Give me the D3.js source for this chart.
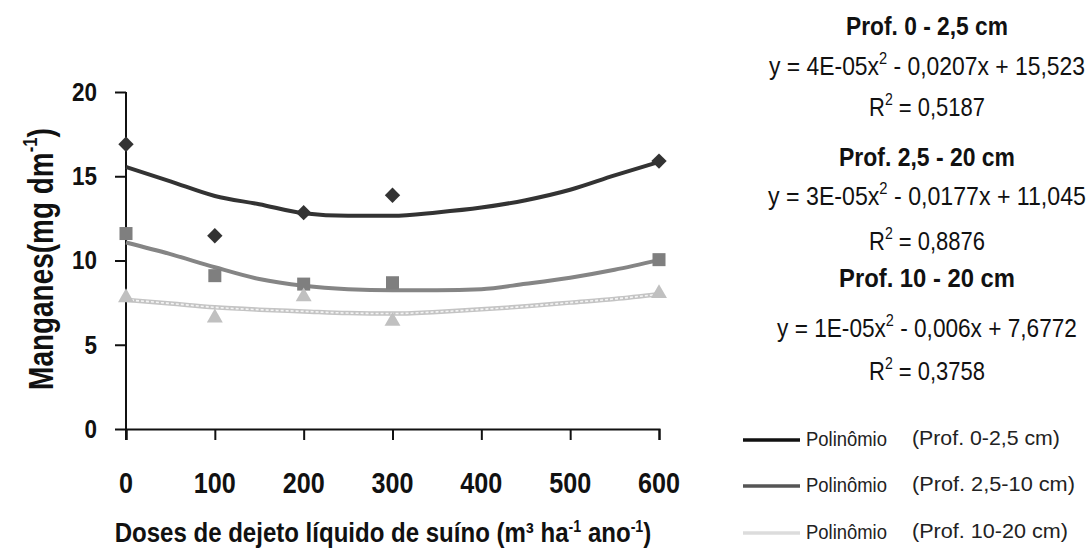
<!DOCTYPE html>
<html>
<head>
<meta charset="utf-8">
<script src="https://cdn.jsdelivr.net/npm/d3@7"></script>
<style>
  html, body { margin: 0; padding: 0; background: #fff; }
  svg { display: block; }
  text { font-family: "Liberation Sans Narrow", "Arial Narrow", "Liberation Sans", Arial, sans-serif; }
</style>
</head>
<body>
<svg id="chart" width="1091" height="548"></svg>
<script>
// ---------- data ----------
const xTicks = [0, 100, 200, 300, 400, 500, 600];
const yTicks = [0, 5, 10, 15, 20];
const doses = [0, 100, 200, 300, 600];
const obs0_25 = [16.9, 11.47, 12.84, 13.87, 15.9];
const obs25_10 = [11.6, 9.1, 8.6, 8.68, 10.05];
const obs10_20 = [7.8, 6.6, 7.85, 6.4, 8.05];
const trendX = [0, 50, 100, 150, 200, 250, 300, 350, 400, 450, 500, 550, 600];
const trend0_25 = [15.55, 14.7, 13.83, 13.34, 12.8, 12.65, 12.65, 12.85, 13.14, 13.58, 14.2, 15.05, 15.85];
const trend25_10 = [11.07, 10.38, 9.6, 8.9, 8.5, 8.3, 8.24, 8.24, 8.3, 8.62, 8.98, 9.45, 10.02];
const trend10_20 = [7.67, 7.45, 7.22, 7.08, 6.98, 6.88, 6.85, 6.95, 7.1, 7.28, 7.5, 7.72, 8.0];
const eqTitles = ["Prof. 0 - 2,5 cm", "Prof. 2,5 - 20 cm", "Prof. 10 - 20 cm"];
const eqA = ["4E-05", "3E-05", "1E-05"];
const eqRest = [" - 0,0207x + 15,523", " - 0,0177x + 11,045", " - 0,006x + 7,6772"];
const eqR2 = ["0,5187", "0,8876", "0,3758"];
const legendNames = ["Polinômio", "Polinômio", "Polinômio"];
const legendDepths = ["(Prof. 0-2,5 cm)", "(Prof. 2,5-10 cm)", "(Prof. 10-20 cm)"];

// ---------- layout ----------
const svg = d3.select("#chart");
const x = d3.scaleLinear().domain([0, 600]).range([126, 659]);
const y = d3.scaleLinear().domain([0, 20]).range([429, 92]);

function fitWidth(sel, target, anchorX) {
  const node = sel.node();
  const w = node.getBBox().width;
  if (w > 0) {
    const s = target / w;
    sel.attr("transform", (sel.attr("transform") || "") + ` translate(${anchorX},0) scale(${s},1) translate(${-anchorX},0)`);
  }
}

// axes
const gx = svg.append("g").attr("transform", "translate(0,429)")
  .call(d3.axisBottom(x).tickValues(xTicks).tickSize(11).tickPadding(0).tickFormat(""));
const gy = svg.append("g").attr("transform", "translate(126,0)")
  .call(d3.axisLeft(y).tickValues(yTicks).tickSize(11).tickFormat(""));
[gx, gy].forEach(g => {
  g.select(".domain").attr("stroke", "#111").attr("stroke-width", 2);
  g.selectAll(".tick line").attr("stroke", "#111").attr("stroke-width", 2);
});
gy.select(".domain").attr("d", "M0,92V440");

// tick labels
xTicks.forEach(v => {
  const t = svg.append("text").attr("x", x(v)).attr("y", 493).attr("text-anchor", "middle")
    .attr("font-size", 29).attr("font-weight", "bold").attr("fill", "#111").text(v);
  fitWidth(t, String(v).length * 14, x(v));
});
yTicks.forEach(v => {
  const t = svg.append("text").attr("x", 97).attr("y", y(v) + 9).attr("text-anchor", "end")
    .attr("font-size", 26).attr("font-weight", "bold").attr("fill", "#111").text(v);
  fitWidth(t, String(v).length * 12.5, 97);
});

// axis titles
const xt = svg.append("text").attr("x", 383).attr("y", 542).attr("text-anchor", "middle")
  .attr("font-size", 27).attr("font-weight", "bold").attr("fill", "#111");
xt.append("tspan").text("Doses de dejeto líquido de suíno (m³ ha");
xt.append("tspan").attr("font-size", 16).attr("dy", -10).text("-1");
xt.append("tspan").attr("dy", 10).text(" ano");
xt.append("tspan").attr("font-size", 16).attr("dy", -10).text("-1");
xt.append("tspan").attr("dy", 10).text(")");
fitWidth(xt, 537, 383);

const ytg = svg.append("g").attr("transform", "translate(53,259) rotate(-90)");
const yt = ytg.append("text").attr("x", 0).attr("y", 0).attr("text-anchor", "middle")
  .attr("font-size", 35).attr("font-weight", "bold").attr("fill", "#111");
yt.append("tspan").text("Manganes(mg dm");
yt.append("tspan").attr("font-size", 21).attr("dy", -16).text("-1");
yt.append("tspan").attr("dy", 16).text(")");
fitWidth(yt, 262, 0);

// trend lines
const line = d3.line().x(d => x(d[0])).y(d => y(d[1])).curve(d3.curveMonotoneX);
svg.append("path").datum(d3.zip(trendX, trend0_25)).attr("d", line)
  .attr("fill", "none").attr("stroke", "#333").attr("stroke-width", 4);
svg.append("path").datum(d3.zip(trendX, trend25_10)).attr("d", line)
  .attr("fill", "none").attr("stroke", "#858585").attr("stroke-width", 4);
svg.append("path").datum(d3.zip(trendX, trend10_20)).attr("d", line)
  .attr("fill", "none").attr("stroke", "#c4c4c4").attr("stroke-width", 4.5);
svg.append("path").datum(d3.zip(trendX, trend10_20)).attr("d", line)
  .attr("fill", "none").attr("stroke", "#f4f4f4").attr("stroke-width", 1.6).attr("stroke-dasharray", "3 2");

// markers
const diamond = d3.symbol().type(d3.symbolSquare).size(118)();
svg.selectAll(".dia").data(d3.zip(doses, obs0_25)).join("path")
  .attr("d", diamond).attr("fill", "#333")
  .attr("transform", d => `translate(${x(d[0])},${y(d[1])}) rotate(45)`);
svg.selectAll(".sq").data(d3.zip(doses, obs25_10)).join("rect")
  .attr("x", d => x(d[0]) - 6.5).attr("y", d => y(d[1]) - 6.5)
  .attr("width", 13).attr("height", 13).attr("fill", "#7f7f7f");
const tri = d3.symbol().type(d3.symbolTriangle).size(110)();
svg.selectAll(".tri").data(d3.zip(doses, obs10_20)).join("path")
  .attr("d", tri).attr("fill", "#c0c0c0")
  .attr("transform", d => `translate(${x(d[0])},${y(d[1])})`);

// equations panel
const cx = 927;
const titleY = [35, 166, 287];
const eqY = [75, 205, 337];
const r2Y = [116, 250, 380];
const eqW = [316, 318, 300];
eqTitles.forEach((t, i) => {
  const tt = svg.append("text").attr("x", cx).attr("y", titleY[i]).attr("text-anchor", "middle")
    .attr("font-size", 26).attr("font-weight", "bold").attr("fill", "#111").text(t);
  fitWidth(tt, i === 0 ? 162 : 176, cx);
  const e = svg.append("text").attr("x", cx).attr("y", eqY[i]).attr("text-anchor", "middle")
    .attr("font-size", 25).attr("fill", "#111");
  e.append("tspan").text("y = " + eqA[i] + "x");
  e.append("tspan").attr("font-size", 16).attr("dy", -11).text("2");
  e.append("tspan").attr("dy", 11).text(eqRest[i]);
  fitWidth(e, eqW[i], cx);
  const r = svg.append("text").attr("x", cx).attr("y", r2Y[i]).attr("text-anchor", "middle")
    .attr("font-size", 25).attr("fill", "#111");
  r.append("tspan").text("R");
  r.append("tspan").attr("font-size", 16).attr("dy", -11).text("2");
  r.append("tspan").attr("dy", 11).text(" = " + eqR2[i]);
  fitWidth(r, 116, cx);
});

// legend
const legColors = ["#111", "#555", "#dcdcdc"];
const legY = [440, 486, 533];
const legDepthW = [148, 163, 156];
legendNames.forEach((n, i) => {
  svg.append("line").attr("x1", 743).attr("x2", 800).attr("y1", legY[i]).attr("y2", legY[i])
    .attr("stroke", legColors[i]).attr("stroke-width", 3.5);
  const a = svg.append("text").attr("x", 806).attr("y", legY[i] + 6).attr("font-size", 21)
    .attr("fill", "#222").text(n);
  fitWidth(a, 81, 806);
  const b = svg.append("text").attr("x", 912).attr("y", legY[i] + 5).attr("font-size", 21)
    .attr("fill", "#222").text(legendDepths[i]);
  fitWidth(b, legDepthW[i], 912);
});
</script>
</body>
</html>
